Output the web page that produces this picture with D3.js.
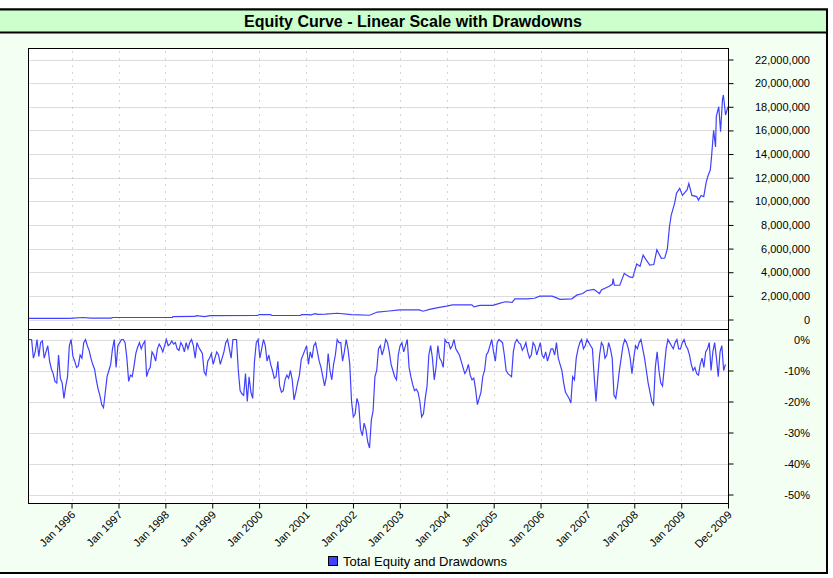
<!DOCTYPE html>
<html><head><meta charset="utf-8">
<script src="https://cdn.jsdelivr.net/npm/d3@7"></script>
<style>body{margin:0;background:#fff}svg{display:block}text{font-family:"Liberation Sans",Arial,sans-serif}</style>
</head><body><svg id="c" width="833" height="578"></svg>
<script>
// ---------- data ----------
const titleText = "Equity Curve - Linear Scale with Drawdowns";
const seriesName = "Total Equity and Drawdowns";
const xTickDates = ["1996-01-01","1997-01-01","1998-01-01","1999-01-01","2000-01-01","2001-01-01","2002-01-01","2003-01-01","2004-01-01","2005-01-01","2006-01-01","2007-01-01","2008-01-01","2009-01-01","2009-12-31"];
const xTickLabels = ["Jan 1996","Jan 1997","Jan 1998","Jan 1999","Jan 2000","Jan 2001","Jan 2002","Jan 2003","Jan 2004","Jan 2005","Jan 2006","Jan 2007","Jan 2008","Jan 2009","Dec 2009"];
const equityTicks = [0,2e6,4e6,6e6,8e6,10e6,12e6,14e6,16e6,18e6,20e6,22e6];
const ddTicks = [0,-10,-20,-30,-40,-50];

const equityDates = ["1995-01-27","1995-12-15","1996-04-01","1996-05-30","1996-11-05","1996-11-15","1998-02-25","1998-03-01","1998-08-20","1998-09-01","1998-11-01","1998-12-15","1999-12-20","2000-01-01","2000-03-31","2000-04-10","2000-11-20","2000-11-25","2001-01-25","2001-02-01","2001-03-15","2001-04-01","2001-06-01","2001-09-01","2001-12-20","2002-05-10","2002-07-10","2002-09-20","2003-01-01","2003-06-01","2003-07-01","2003-08-20","2003-10-15","2004-01-01","2004-02-15","2004-07-15","2004-08-01","2004-09-15","2004-12-25","2005-02-15","2005-04-01","2005-05-25","2005-06-15","2005-09-15","2005-11-15","2005-12-25","2006-04-01","2006-05-01","2006-06-01","2006-09-01","2006-10-10","2006-11-25","2006-12-25","2007-02-20","2007-04-05","2007-04-20","2007-06-20","2007-07-15","2007-07-20","2007-07-30","2007-09-10","2007-09-25","2007-10-15","2007-11-25","2007-12-20","2008-01-20","2008-02-15","2008-03-10","2008-04-05","2008-05-01","2008-06-01","2008-06-25","2008-07-30","2008-08-25","2008-09-15","2008-10-01","2008-10-15","2008-11-10","2008-11-25","2008-12-20","2009-01-10","2009-02-15","2009-03-01","2009-03-25","2009-05-01","2009-05-15","2009-06-05","2009-06-25","2009-07-15","2009-07-30","2009-08-15","2009-08-25","2009-09-10","2009-09-25","2009-10-01","2009-10-20","2009-11-03","2009-11-18","2009-11-25","2009-12-12","2009-12-31"];
const equityValues = [100000,100000,170000,110000,120000,170000,180000,250000,260000,330000,250000,330000,340000,420000,420000,340000,340000,420000,420000,380000,500000,430000,450000,530000,420000,360000,630000,700000,815000,815000,700000,850000,985000,1130000,1240000,1240000,1070000,1200000,1200000,1360000,1500000,1450000,1750000,1750000,1800000,1970000,1970000,1850000,1700000,1750000,2060000,2200000,2430000,2550000,2200000,2500000,2820000,3000000,3470000,2900000,2900000,3330000,3900000,3600000,3550000,4690000,4500000,5450000,5000000,4600000,4650000,5900000,5170000,5200000,6000000,7850000,8840000,9830000,10680000,11100000,10500000,10960000,11500000,10500000,10400000,10100000,10500000,10400000,11670000,12200000,12650000,13800000,16000000,14600000,17200000,18000000,15900000,18600000,19000000,17300000,18000000];

// drawdown (%) read every 28 days from the first date ...
const ddStartDate = "1995-01-27";
const ddStepDays = 28;
const drawdownPct = [0,0,-4,-5.5,-0.5,-4,-7,-11,-14,-12.5,-19,-12,0,-7,-8.5,-6,0,-3.5,-8,-13,-18,-22,-12,-8,0,-2,0,-1,-13.5,-12,-4.5,-1,-1.5,-12,-9,-5,-3,-2.5,-2,-2,-0.5,-1,-3.5,-2,-1,-1,-2,-1,-3.5,-10.5,-7,-4.5,-6,-5,-6,-1,-3,0,0,-16.5,-18,-20,-17,-7,0,-3,-2,-5,-10,-12,-15,-16.5,-11.5,-10,-19.5,-14,-6.5,-3.5,-8,-6,-1,-7,-12,-12,-10,-8,0,-1,-4,-3,-20,-24,-21,-31,-29,-35,-23,-10,-2,-3,-1,-8,-12,-5,-1,-2,-9,-14.5,-16,-20,-24,-15,-2,-13,-2,-7,0,-1,-2,-3,-5,-9,-10,-11.5,-12.5,-21,-17,-10,-4,0,-7,0,-1,-10,-11.5,-4,0,-1.5,-2.5,-4,-5,-2,-3,-5,-4,-5,-3,-1,-8,-14,-18,-20.5,-13,-3,0,-2,-1,-3,-20,-5,-2,-5,-3,-18,-15,-6,0,-3,-11,-2,-1,-3,-10,-17,-21,-4,-14,-9,0,-2,-1,-3,-1,-2,-5,-10,-11,-8,-9,-3,-10,-1,-12,-2,-8];
// ... and the readings halfway (14 days) after each of those dates
const drawdownMidPct = [0,-6,0,-1,-6,-2,-9.5,-13.5,-5,-14,-15,-2,-5.5,-9,-5,-1,-2,-6,-9.5,-16,-21,-17,-10,-3,-9,-1,0,-6,-11.5,-8.5,-2.5,-3,-0.5,-10,-4,-7,-1.5,-4,0,-1.5,-1.5,-3,-1,-4,-3,0,-6,-2.5,-4.5,-11.5,-6,-8,-4,-8,-4,0,-6,0,-10,-17.5,-11,-12,-19,-1,-6,0,-7,-8,-12.5,-7,-17,-13,-12.5,-13,-17,-11.5,-5,-2,-4,-2,-4,-9,-15,-4.5,-13,-5,-1,-7,0,-8,-25,-19,-29,-27,-33,-26,-12,-3,-5,0,-4,-10,-13,-2,-4,0,-12,-16.5,-17,-25,-19,-5,-6,-9,-6,-9,-1,-3,0,-4,-7,-11,-8,-13,-16,-19,-12,-5,-2,-4,-1,-0.5,-5,-11,-12,-1,-1,-3.5,-1,-6,-1,-5,-1,-6,-7,-3,-5,-6,-10,-17,-19,-12,-6,-1,-3,0,-2,-12,-12,-1,-6,-1,-6,-19,-10,-2,-1,-6,-6,-3,0,-6,-14,-20,-9,-10,-15,-3,-1,-3,0,-3,0,-3,-8,-9,-11.5,-6,-4,-1,-4,-6,-4,-10];

// ---------- drawing ----------
const parse = d3.utcParse("%Y-%m-%d");
const svg = d3.select("#c");
const L = 28.5, R = 728.5, T1 = 48.5, B1 = 329, T2 = 329, B2 = 503.5;
const blue = "#4040ff";

const x = d3.scaleUtc().domain([parse("1995-01-27"), parse("2009-12-31")]).range([28, 728]);
const yE = d3.scaleLinear().domain([0, 22e6]).range([319.5, 59.5]);
const yD = d3.scaleLinear().domain([0, -50]).range([339.5, 494.5]);

// frame
svg.append("rect").attr("x", -2).attr("y", 9.5).attr("width", 829).attr("height", 563.5)
  .attr("fill", "#f3fff3").attr("stroke", "#000").attr("stroke-width", 2);
svg.append("rect").attr("x", -2).attr("y", 9.5).attr("width", 829).attr("height", 23)
  .attr("fill", "#ccffcc").attr("stroke", "#000").attr("stroke-width", 2);
svg.append("text").attr("x", 413).attr("y", 27).attr("text-anchor", "middle")
  .attr("font-size", 16).attr("font-weight", "bold").attr("fill", "#000").text(titleText);

// plot background
svg.append("rect").attr("x", L).attr("y", T1).attr("width", R - L).attr("height", B2 - T1).attr("fill", "#fff");

// horizontal grid
svg.append("g").selectAll("line").data(equityTicks).join("line")
  .attr("x1", L).attr("x2", R).attr("y1", d => Math.round(yE(d)) + 0.5).attr("y2", d => Math.round(yE(d)) + 0.5)
  .attr("stroke", "#dcdcdc").attr("stroke-width", 1);
svg.append("g").selectAll("line").data(ddTicks).join("line")
  .attr("x1", L).attr("x2", R).attr("y1", d => Math.round(yD(d)) + 0.5).attr("y2", d => Math.round(yD(d)) + 0.5)
  .attr("stroke", "#dcdcdc").attr("stroke-width", 1);

// vertical dotted grid
const xt = xTickDates.map(parse);
svg.append("g").selectAll("line").data(xt.slice(0, xt.length - 1)).join("line")
  .attr("x1", d => Math.round(x(d)) + 0.5).attr("x2", d => Math.round(x(d)) + 0.5)
  .attr("y1", T1 + 3).attr("y2", B2)
  .attr("stroke", "#aaaaaa").attr("stroke-width", 1).attr("stroke-dasharray", "1,6");

// clips
const defs = svg.append("defs");
defs.append("clipPath").attr("id", "c1").append("rect").attr("x", L).attr("y", T1).attr("width", R - L).attr("height", B1 - T1);
defs.append("clipPath").attr("id", "c2").append("rect").attr("x", L).attr("y", T2).attr("width", R - L).attr("height", B2 - T2);

// equity line
const eq = equityDates.map((d, i) => ({ d: parse(d), v: equityValues[i] }));
svg.append("path").attr("clip-path", "url(#c1)").datum(eq)
  .attr("d", d3.line().x(p => x(p.d)).y(p => yE(p.v)))
  .attr("fill", "none").attr("stroke", blue).attr("stroke-width", 1.2);

// drawdown line
const ds = parse(ddStartDate);
const dd = [];
drawdownPct.forEach((v, i) => {
  dd.push({ d: d3.utcDay.offset(ds, i * ddStepDays), v });
  if (i < drawdownMidPct.length) dd.push({ d: d3.utcDay.offset(ds, i * ddStepDays + ddStepDays / 2), v: drawdownMidPct[i] });
});
svg.append("path").attr("clip-path", "url(#c2)").datum(dd)
  .attr("d", d3.line().x(p => x(p.d)).y(p => yD(p.v)))
  .attr("fill", "none").attr("stroke", blue).attr("stroke-width", 1.2);

// borders
svg.append("rect").attr("x", L).attr("y", T1).attr("width", R - L).attr("height", B2 - T1)
  .attr("fill", "none").attr("stroke", "#000").attr("stroke-width", 1);
svg.append("line").attr("x1", L).attr("x2", R).attr("y1", B1 + 0.5).attr("y2", B1 + 0.5).attr("stroke", "#000");

// right axes
const fmtE = d3.format(",");
const axE = svg.append("g").attr("transform", `translate(${R},0)`)
  .call(d3.axisRight(yE).tickValues(equityTicks).tickSize(5).tickFormat(fmtE));
const axD = svg.append("g").attr("transform", `translate(${R},0)`)
  .call(d3.axisRight(yD).tickValues(ddTicks).tickSize(5).tickFormat(d => d + "%"));
[axE, axD].forEach(a => {
  a.select(".domain").remove();
  a.selectAll(".tick line").attr("stroke", "#000");
  a.selectAll(".tick text").attr("x", 810 - R).attr("text-anchor", "end")
    .attr("font-size", 11).attr("fill", "#000").attr("font-family", "Liberation Sans, Arial, sans-serif");
});

// bottom axis
const axX = svg.append("g").attr("transform", `translate(0,${B2})`)
  .call(d3.axisBottom(x).tickValues(xt).tickSize(5).tickFormat((d, i) => xTickLabels[i]));
axX.select(".domain").remove();
axX.selectAll(".tick line").attr("stroke", "#000");
axX.selectAll(".tick text").attr("font-size", 11).attr("fill", "#000")
  .attr("font-family", "Liberation Sans, Arial, sans-serif")
  .attr("text-anchor", "end").attr("dy", null).attr("y", 0)
  .attr("transform", "translate(4,12) rotate(-45)");

// legend
svg.append("rect").attr("x", 328.5).attr("y", 556.5).attr("width", 9).attr("height", 9)
  .attr("fill", blue).attr("stroke", "#000").attr("stroke-width", 1);
svg.append("text").attr("x", 343).attr("y", 566).attr("font-size", 13).attr("fill", "#000").text(seriesName);
</script></body></html>
